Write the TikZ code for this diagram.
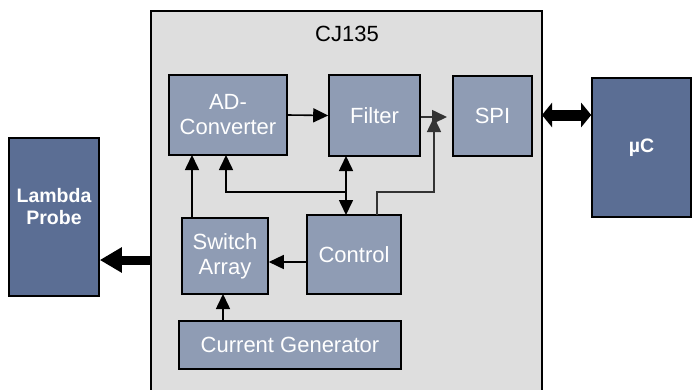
\documentclass[tikz,border=0pt]{standalone}
\usepackage{fontspec}
\setmainfont{Liberation Sans}
\usetikzlibrary{arrows.meta}

\definecolor{chipgray}{HTML}{DEDEDE}
\definecolor{blockblue}{HTML}{8F9CB4}
\definecolor{extblue}{HTML}{5B6E94}
\definecolor{wiregray}{HTML}{333333}

\tikzset{
  block/.style={draw=black, line width=1.6pt, fill=blockblue, text=white,
    inner sep=0pt, align=center, font=\fontsize{22}{25}\selectfont},
  extblock/.style={block, fill=extblue, font=\bfseries\fontsize{19.5}{22}\selectfont},
  wire/.style={line width=1.6pt, -{Triangle[length=15pt,width=14pt]}},
  busarrow/.style={line width=9pt, -{Triangle[length=22pt,width=24pt]}}
}

\begin{document}
\begin{tikzpicture}[x=1pt, y=-1pt]
    \useasboundingbox (0,0) rectangle (692,389);
    % Chip
    \draw[line width=1.8pt, fill=chipgray] (151,11) rectangle (542,400);
    \node[font=\fontsize{22}{25}\selectfont] (chip) at (347,34) {CJ135};
    % Blocks
    \node[block, minimum width=118pt, minimum height=80pt] (adc) at (228,115) {AD-\\Converter};
    \node[block, minimum width=91pt, minimum height=81pt] (filter) at (374.5,115.5) {Filter};
    \node[block, minimum width=79pt, minimum height=80pt] (spi) at (492.5,116) {SPI};
    \node[block, minimum width=86pt, minimum height=76pt] (switch) at (225,256) {Switch\\Array};
    \node[block, minimum width=94pt, minimum height=79pt] (control) at (354,254.5) {Control};
    \node[block, minimum width=222pt, minimum height=48pt] (current) at (290,345) {Current Generator};
    % Outside
    \node[extblock, minimum width=99pt, minimum height=139pt] (uc) at (641.5,147.5) {µC};
    \node[extblock, minimum width=90pt, minimum height=158pt] (probe) at (54,217) {};
    \node[extblock, draw=none, fill=none] (probetext) at (54,207) {Lambda\\Probe};
    % Points
    \coordinate (spiin) at (447,117);
    \coordinate (spiup) at (434,117);
    \coordinate (ctrlout) at (377,215);
    \coordinate (branch) at (346,192);
    \coordinate (chipleft) at (151,260);
    \coordinate (chipright) at (542,115);
    % Drawing
    \draw[wire] (adc.east) -- (filter.west);
    \draw[wire, wiregray] (filter.east |- spiin) -- (spiin);
    \draw[wire, wiregray] (ctrlout) |- (434,192) -- (spiup);
    \draw[wire, {Triangle[length=15pt,width=14pt]}-{Triangle[length=15pt,width=14pt]}] (346,156) -- (346,215);
    \draw[wire] (branch) -| (226,155);
    \draw[wire] (192,218) -- (192,155);
    \draw[wire] (control.west |- 0,262) -- (switch.east |- 0,262);
    \draw[wire] (223,321) -- (223,294);
    \draw[busarrow] (chipleft) -- (probe.east |- chipleft);
    \draw[line width=11pt, {Triangle[length=10pt,width=24pt]}-{Triangle[length=10pt,width=24pt]}] (chipright) -- (uc.west |- chipright);
  \end{tikzpicture}
\end{document}
